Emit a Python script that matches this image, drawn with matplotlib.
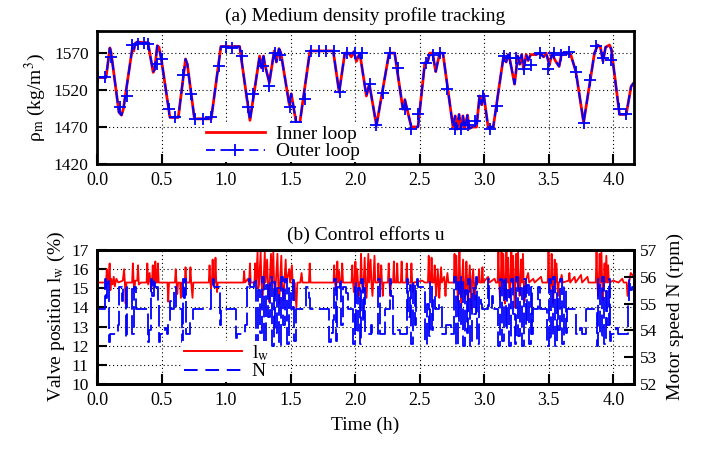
import matplotlib
matplotlib.use('Agg')
from matplotlib import pyplot as plt
from matplotlib.lines import Line2D

plt.rcParams['font.family'] = ['Liberation Serif', 'DejaVu Serif']
plt.rcParams['mathtext.fontset'] = 'stix'
plt.rcParams['font.size'] = 14

"""
(a) density profile, read off the picture: (time h, rho kg/m3)
"""
rho_pts = [
    (0.000, 1537), (0.070, 1537), (0.100, 1577), (0.110, 1570), (0.170, 1490),
    (0.190, 1486), (0.205, 1495), (0.275, 1578), (0.285, 1573), (0.295, 1583),
    (0.310, 1585), (0.395, 1584), (0.435, 1544), (0.447, 1548), (0.467, 1580),
    (0.480, 1578), (0.500, 1560), (0.565, 1483), (0.630, 1483), (0.686, 1562),
    (0.700, 1555), (0.755, 1481), (0.885, 1481), (0.960, 1579), (1.105, 1579),
    (1.185, 1479), (1.260, 1566), (1.275, 1550), (1.290, 1566), (1.300, 1555),
    (1.335, 1530), (1.373, 1573), (1.390, 1558), (1.410, 1576), (1.425, 1570),
    (1.490, 1500), (1.505, 1515), (1.545, 1474), (1.570, 1474), (1.650, 1573),
    (1.830, 1573), (1.876, 1517), (1.920, 1570), (1.950, 1570), (1.970, 1565),
    (1.990, 1572), (2.010, 1559), (2.036, 1570), (2.087, 1512), (2.110, 1528),
    (2.165, 1472), (2.263, 1570), (2.306, 1570), (2.370, 1494), (2.385, 1507),
    (2.435, 1470), (2.487, 1470), (2.540, 1557), (2.560, 1557), (2.578, 1570),
    (2.600, 1570), (2.624, 1545), (2.655, 1570), (2.680, 1570), (2.758, 1470),
    (2.775, 1485), (2.790, 1467), (2.805, 1487), (2.820, 1467), (2.835, 1485),
    (2.850, 1468), (2.870, 1486), (2.885, 1468), (2.910, 1470), (2.940, 1470),
    (2.964, 1512), (2.980, 1500), (2.995, 1515), (3.030, 1470), (3.070, 1470),
    (3.150, 1566), (3.170, 1558), (3.185, 1568), (3.200, 1560), (3.235, 1528),
    (3.260, 1566), (3.275, 1555), (3.290, 1568), (3.305, 1548), (3.325, 1568),
    (3.340, 1560), (3.360, 1568), (3.400, 1568), (3.430, 1570), (3.460, 1565),
    (3.480, 1570), (3.505, 1554), (3.525, 1570), (3.550, 1560), (3.580, 1552),
    (3.600, 1570), (3.640, 1570), (3.670, 1568), (3.710, 1545), (3.770, 1476),
    (3.854, 1570), (3.880, 1581), (3.900, 1578), (3.920, 1559), (3.940, 1578),
    (3.970, 1581), (3.985, 1575), (4.048, 1487), (4.100, 1487), (4.138, 1525),
    (4.160, 1530),
]

# outer loop samples (the + marks)
outer_pts = [
    (0.010, 1537), (0.062, 1537), (0.108, 1565), (0.178, 1497), (0.230, 1512),
    (0.273, 1581), (0.315, 1583), (0.366, 1584), (0.397, 1582), (0.462, 1555),
    (0.500, 1562), (0.557, 1495), (0.604, 1483), (0.668, 1541), (0.725, 1515),
    (0.758, 1481), (0.823, 1481), (0.882, 1483), (0.944, 1553), (0.996, 1578),
    (1.043, 1577), (1.120, 1566), (1.171, 1497), (1.210, 1515), (1.287, 1553),
    (1.334, 1526), (1.378, 1570), (1.416, 1568), (1.494, 1497), (1.545, 1477),
    (1.610, 1508), (1.660, 1573), (1.720, 1573), (1.777, 1573), (1.834, 1573),
    (1.881, 1517), (1.937, 1570), (1.997, 1570), (2.050, 1570), (2.113, 1528),
    (2.159, 1472), (2.216, 1516), (2.270, 1570), (2.330, 1550), (2.384, 1494),
    (2.435, 1467), (2.487, 1487), (2.547, 1557), (2.600, 1568), (2.660, 1570),
    (2.710, 1521), (2.770, 1467), (2.820, 1467), (2.874, 1472), (2.930, 1478),
    (2.990, 1512), (3.042, 1467), (3.099, 1499), (3.150, 1566), (3.196, 1563),
    (3.248, 1563), (3.305, 1548), (3.360, 1554), (3.430, 1570), (3.494, 1548),
    (3.537, 1570), (3.597, 1568), (3.656, 1572), (3.713, 1545), (3.770, 1476),
    (3.821, 1534), (3.868, 1579), (3.919, 1563), (3.983, 1561), (4.042, 1494),
    (4.100, 1487),
]

"""
(b) valve position l_w (%) and motor speed N (rpm)
"""
lw_pts = [
    (0.000, 15.3), (0.070, 15.3), (0.076, 16.0), (0.082, 15.2), (0.090, 15.5),
    (0.098, 16.3), (0.104, 14.9), (0.110, 15.5), (0.122, 15.2), (0.130, 15.6),
    (0.138, 15.1), (0.150, 15.5), (0.165, 15.3), (0.200, 15.4), (0.210, 16.0),
    (0.216, 15.3), (0.222, 14.2), (0.228, 15.3), (0.272, 15.3), (0.278, 16.3),
    (0.284, 15.3), (0.290, 14.9), (0.296, 15.4), (0.312, 15.4), (0.318, 16.2),
    (0.324, 15.2), (0.340, 15.3), (0.384, 15.3), (0.390, 16.3), (0.396, 15.2),
    (0.408, 15.8), (0.414, 15.3), (0.420, 14.9), (0.426, 15.3), (0.432, 16.2),
    (0.438, 15.2), (0.446, 15.3), (0.452, 16.4), (0.458, 15.3), (0.466, 15.3),
    (0.472, 16.3), (0.478, 15.3), (0.546, 15.3), (0.552, 14.3), (0.558, 15.3),
    (0.604, 15.3), (0.610, 16.0), (0.616, 15.3), (0.622, 14.7), (0.628, 15.3),
    (0.644, 15.3), (0.650, 14.5), (0.656, 15.3), (0.680, 15.3), (0.686, 16.1),
    (0.692, 15.3), (0.718, 15.3), (0.724, 16.1), (0.730, 15.3), (0.740, 14.5),
    (0.746, 15.3), (0.866, 15.3), (0.872, 16.2), (0.878, 15.3), (0.884, 15.0),
    (0.890, 15.3), (0.896, 16.5), (0.902, 15.3), (0.912, 15.3), (0.918, 16.6),
    (0.924, 15.3), (0.930, 14.8), (0.936, 15.3), (1.134, 15.3), (1.140, 15.9),
    (1.146, 15.3), (1.170, 15.5), (1.178, 15.2), (1.185, 16.3), (1.191, 15.3),
    (1.220, 15.3), (1.226, 16.3), (1.232, 15.3), (1.244, 16.9), (1.250, 15.0),
    (1.256, 15.3), (1.268, 16.9), (1.274, 15.3), (1.284, 14.6), (1.290, 15.3),
    (1.300, 16.9), (1.306, 15.3), (1.318, 16.5), (1.324, 15.3), (1.332, 14.3),
    (1.338, 15.3), (1.348, 16.8), (1.354, 15.3), (1.366, 16.9), (1.372, 15.3),
    (1.380, 14.6), (1.386, 15.3), (1.398, 16.8), (1.404, 15.3), (1.412, 14.2),
    (1.418, 15.3), (1.428, 16.7), (1.434, 15.3), (1.446, 14.4), (1.452, 15.3),
    (1.462, 16.5), (1.468, 15.3), (1.490, 16.0), (1.496, 15.3), (1.510, 16.2),
    (1.516, 15.3), (1.524, 14.7), (1.530, 15.3), (1.545, 14.0), (1.552, 15.3),
    (1.575, 15.3), (1.585, 15.8), (1.592, 15.3), (1.642, 15.3), (1.648, 16.3),
    (1.654, 15.3), (1.832, 15.3), (1.838, 16.2), (1.844, 15.3), (1.850, 14.9),
    (1.856, 15.3), (1.862, 16.4), (1.868, 15.3), (1.876, 15.9), (1.882, 15.3),
    (1.894, 15.3), (1.900, 16.3), (1.906, 15.3), (1.972, 15.3), (1.978, 16.2),
    (1.984, 15.3), (1.990, 14.8), (1.996, 15.3), (2.002, 16.4), (2.008, 15.3),
    (2.016, 16.0), (2.022, 15.3), (2.028, 14.6), (2.034, 15.3), (2.040, 15.3),
    (2.046, 16.8), (2.052, 15.3), (2.060, 14.8), (2.066, 15.3), (2.074, 16.6),
    (2.080, 15.3), (2.088, 14.5), (2.094, 15.3), (2.102, 16.8), (2.108, 15.3),
    (2.120, 16.5), (2.126, 15.3), (2.134, 14.6), (2.140, 15.3), (2.150, 16.7),
    (2.156, 15.3), (2.174, 15.3), (2.180, 16.3), (2.186, 15.3), (2.196, 15.3),
    (2.202, 16.2), (2.208, 15.3), (2.214, 14.6), (2.220, 15.3), (2.254, 15.3),
    (2.260, 16.3), (2.266, 15.3), (2.272, 14.6), (2.278, 15.3), (2.294, 15.3),
    (2.300, 16.4), (2.306, 15.3), (2.320, 15.3), (2.326, 16.3), (2.332, 15.3),
    (2.354, 15.3), (2.360, 16.4), (2.366, 15.3), (2.394, 15.3), (2.400, 16.3),
    (2.406, 15.3), (2.430, 15.3), (2.436, 16.3), (2.442, 15.3), (2.448, 14.8),
    (2.454, 15.3), (2.520, 15.4), (2.540, 15.3), (2.564, 15.3), (2.570, 16.7),
    (2.576, 15.3), (2.586, 15.3), (2.592, 16.6), (2.598, 15.3), (2.610, 15.3),
    (2.616, 16.2), (2.622, 15.3), (2.628, 14.6), (2.634, 15.3), (2.640, 16.0),
    (2.646, 15.3), (2.652, 14.5), (2.658, 15.3), (2.666, 16.1), (2.672, 15.3),
    (2.690, 15.6), (2.700, 14.6), (2.706, 15.3), (2.715, 15.8), (2.722, 15.3),
    (2.764, 15.3), (2.770, 16.8), (2.776, 15.3), (2.784, 16.7), (2.790, 15.3),
    (2.796, 14.3), (2.802, 15.3), (2.808, 16.9), (2.814, 15.3), (2.822, 14.0),
    (2.828, 15.3), (2.836, 16.5), (2.842, 15.3), (2.850, 14.5), (2.856, 15.3),
    (2.862, 16.4), (2.868, 15.3), (2.874, 13.8), (2.880, 15.3), (2.888, 16.2),
    (2.894, 15.3), (2.900, 13.9), (2.906, 15.3), (2.914, 16.0), (2.920, 15.3),
    (2.926, 14.4), (2.932, 15.3), (2.954, 15.3), (2.960, 16.0), (2.966, 15.3),
    (2.980, 15.3), (2.986, 16.1), (2.992, 15.3), (3.030, 15.6), (3.040, 15.3),
    (3.080, 15.5), (3.090, 15.3), (3.104, 15.3), (3.110, 16.9), (3.116, 15.3),
    (3.122, 14.4), (3.128, 15.3), (3.134, 16.9), (3.140, 15.3), (3.148, 16.8),
    (3.154, 15.3), (3.160, 14.2), (3.166, 15.3), (3.172, 16.9), (3.178, 15.3),
    (3.186, 16.6), (3.192, 15.3), (3.198, 14.5), (3.204, 15.3), (3.210, 16.9),
    (3.216, 15.3), (3.224, 16.7), (3.230, 15.3), (3.236, 14.0), (3.242, 15.3),
    (3.248, 16.8), (3.254, 15.3), (3.262, 16.9), (3.268, 15.3), (3.274, 14.6),
    (3.280, 15.3), (3.286, 16.5), (3.292, 15.3), (3.300, 16.8), (3.306, 15.3),
    (3.312, 14.3), (3.318, 15.3), (3.340, 15.8), (3.348, 15.3), (3.380, 15.5),
    (3.390, 15.3), (3.440, 15.6), (3.450, 15.3), (3.492, 15.3), (3.498, 16.9),
    (3.504, 15.3), (3.510, 14.8), (3.516, 15.3), (3.522, 16.8), (3.528, 15.3),
    (3.534, 14.2), (3.540, 15.3), (3.546, 16.5), (3.552, 15.3), (3.560, 16.3),
    (3.566, 15.3), (3.572, 14.6), (3.578, 15.3), (3.590, 15.4), (3.600, 15.7),
    (3.608, 15.3), (3.654, 15.4), (3.660, 15.8), (3.666, 15.3), (3.700, 15.6),
    (3.708, 15.3), (3.750, 15.7), (3.758, 15.3), (3.800, 15.6), (3.808, 15.3),
    (3.864, 15.3), (3.870, 16.9), (3.876, 15.3), (3.882, 14.6), (3.888, 15.3),
    (3.894, 16.8), (3.900, 15.3), (3.908, 16.9), (3.914, 15.3), (3.920, 14.4),
    (3.926, 15.3), (3.932, 16.3), (3.938, 15.3), (3.946, 16.7), (3.952, 15.3),
    (3.960, 16.2), (3.966, 15.3), (4.000, 15.4), (4.040, 15.3), (4.070, 15.5),
    (4.080, 15.3), (4.104, 15.3), (4.110, 14.6), (4.120, 15.2), (4.135, 15.8),
    (4.160, 15.6),
]

n_pts = [
    (0.000, 54.78), (0.062, 55.90), (0.070, 55.20), (0.078, 55.90), (0.092, 53.57),
    (0.100, 53.85), (0.160, 54.20), (0.172, 55.63), (0.190, 55.10), (0.198, 55.63),
    (0.222, 53.70), (0.232, 55.63), (0.275, 53.85), (0.283, 55.63), (0.300, 54.78),
    (0.395, 53.57), (0.405, 54.00), (0.418, 55.90), (0.430, 55.30), (0.440, 55.90),
    (0.450, 55.63), (0.470, 55.10), (0.478, 53.57), (0.486, 53.85), (0.530, 54.10),
    (0.540, 53.85), (0.552, 54.30), (0.562, 55.10), (0.572, 54.78), (0.600, 55.63),
    (0.612, 54.78), (0.655, 53.57), (0.665, 55.90), (0.675, 55.20), (0.685, 55.90),
    (0.692, 53.85), (0.720, 54.30), (0.745, 54.78), (0.880, 55.63), (0.895, 55.90),
    (0.905, 55.63), (0.950, 54.20), (0.960, 54.78), (1.075, 53.70), (1.085, 53.85),
    (1.150, 54.20), (1.165, 55.63), (1.175, 55.90), (1.185, 55.63), (1.220, 55.90),
    (1.235, 53.50), (1.250, 55.50), (1.264, 53.90), (1.279, 56.00), (1.294, 53.40),
    (1.309, 55.70), (1.323, 54.50), (1.338, 56.00), (1.353, 53.40), (1.368, 55.80),
    (1.382, 53.90), (1.397, 55.60), (1.412, 53.40), (1.427, 56.00), (1.441, 54.20),
    (1.456, 55.90), (1.471, 53.50), (1.486, 55.60), (1.500, 54.80), (1.515, 56.00),
    (1.530, 53.60), (1.545, 54.78), (1.620, 55.63), (1.640, 55.20), (1.650, 54.78),
    (1.800, 53.57), (1.810, 53.90), (1.830, 54.40), (1.840, 55.90), (1.852, 53.60),
    (1.862, 55.63), (1.880, 55.90), (1.890, 54.20), (1.905, 55.63), (1.930, 55.40),
    (1.945, 54.78), (1.985, 53.50), (1.998, 55.80), (2.010, 53.90), (2.022, 55.60),
    (2.034, 53.50), (2.046, 55.90), (2.058, 54.30), (2.068, 55.60), (2.078, 53.85),
    (2.120, 54.20), (2.130, 53.85), (2.180, 55.90), (2.190, 53.85), (2.230, 54.78),
    (2.270, 55.90), (2.280, 55.30), (2.290, 53.85), (2.330, 54.00), (2.345, 53.85),
    (2.400, 55.90), (2.412, 54.50), (2.424, 55.70), (2.436, 53.50), (2.448, 55.80),
    (2.460, 54.20), (2.470, 55.63), (2.478, 55.90), (2.490, 55.63), (2.545, 53.50),
    (2.557, 55.00), (2.569, 53.80), (2.581, 55.80), (2.595, 54.00), (2.607, 55.30),
    (2.620, 54.78), (2.650, 55.00), (2.670, 53.85), (2.700, 54.20), (2.720, 54.20),
    (2.740, 53.85), (2.765, 56.00), (2.779, 53.40), (2.793, 55.80), (2.807, 54.20),
    (2.821, 56.00), (2.835, 53.40), (2.849, 55.50), (2.863, 53.90), (2.877, 55.90),
    (2.891, 53.40), (2.905, 55.60), (2.919, 54.60), (2.933, 56.00), (2.947, 53.50),
    (2.961, 55.30), (2.975, 55.00), (2.985, 54.78), (3.030, 55.90), (3.040, 54.78),
    (3.060, 55.30), (3.070, 54.78), (3.110, 53.40), (3.124, 55.90), (3.138, 53.60),
    (3.152, 56.00), (3.166, 54.00), (3.180, 55.50), (3.194, 53.40), (3.208, 55.90),
    (3.222, 54.60), (3.236, 53.50), (3.250, 56.00), (3.264, 53.80), (3.278, 55.60),
    (3.292, 53.40), (3.306, 55.90), (3.320, 54.20), (3.334, 55.70), (3.348, 53.50),
    (3.362, 55.63), (3.372, 53.85), (3.380, 54.78), (3.420, 55.63), (3.430, 54.78),
    (3.490, 53.40), (3.504, 55.90), (3.518, 53.70), (3.532, 56.00), (3.546, 53.40),
    (3.560, 55.40), (3.574, 54.00), (3.588, 55.90), (3.602, 53.50), (3.616, 55.63),
    (3.630, 53.90), (3.640, 54.78), (3.710, 53.85), (3.740, 54.10), (3.755, 53.85),
    (3.790, 54.78), (3.870, 53.40), (3.884, 55.90), (3.898, 53.80), (3.912, 56.00),
    (3.926, 53.50), (3.940, 55.60), (3.954, 54.20), (3.968, 55.90), (3.978, 53.60),
    (3.985, 53.85), (4.020, 54.10), (4.035, 53.85), (4.110, 55.00), (4.120, 55.90),
    (4.130, 55.50), (4.145, 55.63), (4.160, 55.63),
]

x_ticks = [0.0, 0.5, 1.0, 1.5, 2.0, 2.5, 3.0, 3.5, 4.0]
rho_ticks = [1420, 1470, 1520, 1570]
lw_ticks = [10, 11, 12, 13, 14, 15, 16, 17]
n_ticks = [52, 53, 54, 55, 56, 57]

rho_t, rho_v = zip(*rho_pts)
out_t, out_v = zip(*outer_pts)
lw_t, lw_v = zip(*lw_pts)
n_t, n_v = zip(*n_pts)

grid_style = dict(color='black', linestyle=(0, (1, 2.5)), linewidth=0.8)


def style_axes(ax):
    for s in ax.spines.values():
        s.set_linewidth(2)
    ax.tick_params(direction='in', length=7, width=1.5, top=False, right=False,
                   pad=6)
    ax.tick_params(axis='x', labelsize=13)
    ax.tick_params(axis='y', labelsize=12.5)
    ax.set_xlim(0, 4.16)
    ax.set_xticks(x_ticks)
    ax.set_xticklabels(['%.1f' % v for v in x_ticks])
    ax.grid(True, **grid_style)


fig = plt.figure(figsize=(7.1, 4.49), dpi=100)

""" (a) """
ax1 = fig.add_axes([0.1366, 0.635, 0.7563, 0.296])
style_axes(ax1)
ax1.plot(rho_t, rho_v, color='red', lw=2.0)
ax1.plot(rho_t, rho_v, color='blue', lw=1.4, linestyle=(0, (6, 2.5)))
ax1.plot(out_t, out_v, linestyle='none', marker='+', color='blue', ms=9, mew=1.3)
ax1.set_ylim(1420, 1600)
ax1.set_yticks(rho_ticks)
ax1.set_ylabel('ρ$_\\mathrm{m}$ (kg/m$^3$)', fontsize=14, labelpad=4)
ax1.set_title('(a) Medium density profile tracking', fontsize=14, pad=7)
h1 = [Line2D([], [], color='red', lw=2.0),
      Line2D([], [], color='blue', lw=1.3, linestyle=(0, (5, 3)),
             marker='+', ms=9, mew=1.3)]
leg = ax1.legend(h1, ['Inner loop', 'Outer loop'], loc='lower left',
                 bbox_to_anchor=(0.2, 0.012), frameon=True, fancybox=False,
                 edgecolor='none', facecolor='white', framealpha=1,
                 handlelength=3.0, handletextpad=0.6, borderpad=0.1,
                 borderaxespad=0, labelspacing=0.0, fontsize=14)
leg.set_zorder(10)

""" (b) """
ax2 = fig.add_axes([0.1366, 0.1448, 0.7563, 0.2984])
style_axes(ax2)
ax2.plot(lw_t, lw_v, color='red', lw=1.3)
ax2.set_ylim(10, 17)
ax2.set_yticks(lw_ticks)
ax2.set_ylabel(r'Valve position l$_\mathrm{w}$ (%)', fontsize=14, labelpad=3)
ax2.set_xlabel('Time (h)', fontsize=14, labelpad=5)
ax2.set_title('(b) Control efforts u', fontsize=14, pad=7)

ax3 = ax2.twinx()
ax3.step(n_t, n_v, where='post', color='blue', lw=1.3, linestyle=(0, (12, 3)))
ax3.set_ylim(52, 57)
ax3.set_yticks(n_ticks)
ax3.tick_params(direction='in', length=7, width=1.5, labelsize=12.5, pad=4)
ax3.set_ylabel('Motor speed N (rpm)', fontsize=14, labelpad=7)
for s in ax3.spines.values():
    s.set_linewidth(2)

h2 = [Line2D([], [], color='red', lw=1.4),
      Line2D([], [], color='blue', lw=1.4, linestyle=(0, (7, 4)))]
leg2 = ax3.legend(h2, [r'l$_\mathrm{w}$', 'N'], loc='lower left',
                  bbox_to_anchor=(0.158, 0.012), frameon=True, fancybox=False,
                  edgecolor='none', facecolor='white', framealpha=1,
                  handlelength=3.0, handletextpad=0.5, borderpad=0.1,
                  borderaxespad=0, labelspacing=0.0, fontsize=14)
leg2.set_zorder(10)

fig.savefig('out.png', dpi=100)
